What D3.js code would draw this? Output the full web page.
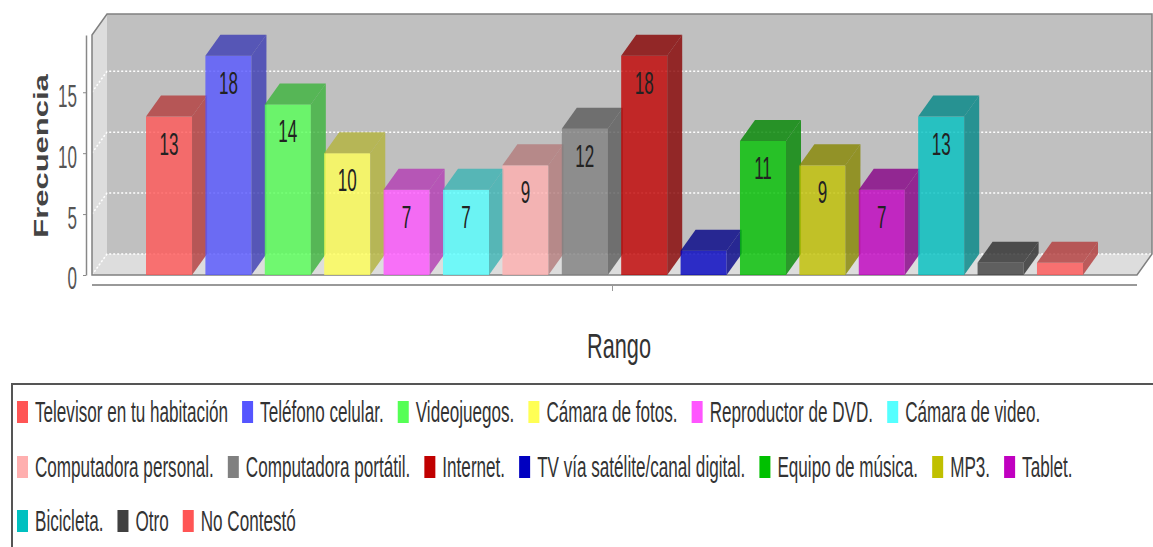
<!DOCTYPE html>
<html><head>
<meta charset="utf-8">
<script src="https://d3js.org/d3.v7.min.js"></script>
<style>
  body { margin: 0; background: #fff; }
  text { font-family: "Liberation Sans", Arial, sans-serif; }
</style>
</head>
<body>
<svg id="chart" width="1153" height="547"></svg>
<script>
// data
const series = ["Televisor en tu habitación", "Teléfono celular.", "Videojuegos.", "Cámara de fotos.",
  "Reproductor de DVD.", "Cámara de video.", "Computadora personal.", "Computadora portátil.",
  "Internet.", "TV vía satélite/canal digital.", "Equipo de música.", "MP3.", "Tablet.",
  "Bicicleta.", "Otro", "No Contestó"];
const values = [13, 18, 14, 10, 7, 7, 9, 12, 18, 2, 11, 9, 7, 13, 1, 1];
const colors = ["#ff5555", "#5555ff", "#55ff55", "#ffff55", "#ff55ff", "#55ffff", "#ffafaf", "#808080",
  "#c00000", "#0000c0", "#00c000", "#c0c000", "#c000c0", "#00c0c0", "#404040", "#ff5555"];
const yTicks = [0, 5, 10, 15];

let svg = d3.select("#chart");
svg.append("rect").attr("width", 1153).attr("height", 547).attr("fill", "#fff");

// plot geometry (front face) and 3d offset
let plot = {left: 92, right: 1137, top: 35, bottom: 275};
let dx = 15, dy = 21;

let x = d3.scaleBand().domain(series).range([146, 1083]).paddingInner(0.225).paddingOuter(0);
let y = d3.scaleLinear().domain([0, 19.7]).range([plot.bottom, plot.top]);
let color = d3.scaleOrdinal().domain(series).range(colors);

// text in the picture is squeezed horizontally
function squeeze(sel, px, py, sx) {
  sel.attr("transform", "translate(" + px + "," + py + ") scale(" + sx + ",1)");
}

// back wall, left wall, floor
let g = svg.append("g");
g.append("rect")
  .attr("x", plot.left + dx).attr("y", plot.top - dy)
  .attr("width", plot.right - plot.left).attr("height", plot.bottom - plot.top)
  .attr("fill", "#c0c0c0");
g.append("polygon")
  .attr("points", [[plot.left, plot.top], [plot.left + dx, plot.top - dy], [plot.left + dx, plot.bottom - dy], [plot.left, plot.bottom]].join(" "))
  .attr("fill", "#dddddd");
g.append("polygon")
  .attr("points", [[plot.left, plot.bottom], [plot.left + dx, plot.bottom - dy], [plot.right + dx, plot.bottom - dy], [plot.right, plot.bottom]].join(" "))
  .attr("fill", "#dddddd");

// gridlines
yTicks.forEach(t => {
  let yy = y(t);
  g.append("polyline")
    .attr("points", [[plot.left, yy], [plot.left + dx, yy - dy], [plot.right + dx, yy - dy]].join(" "))
    .attr("fill", "none")
    .attr("stroke", "#ffffff")
    .attr("stroke-width", 1.5)
    .attr("stroke-dasharray", "2,2");
});

// outline
g.append("polygon")
  .attr("points", [[plot.left, plot.top], [plot.left + dx, plot.top - dy], [plot.right + dx, plot.top - dy],
    [plot.right + dx, plot.bottom - dy], [plot.right, plot.bottom], [plot.left, plot.bottom]].join(" "))
  .attr("fill", "none")
  .attr("stroke", "#808080")
  .attr("stroke-width", 1.5);

// bars
let bars = svg.append("g");
let bw = x.bandwidth();
series.forEach((s, i) => {
  let v = values[i];
  let x0 = x(s), x1 = x0 + bw;
  let yv = y(v), y0 = y(0);
  let c = color(s);
  let dark = d3.color(c).darker(1).formatHex();
  bars.append("rect")
    .attr("x", x0).attr("y", yv).attr("width", bw).attr("height", y0 - yv)
    .attr("fill", c).attr("fill-opacity", 0.8);
  bars.append("polygon")
    .attr("points", [[x1, yv], [x1 + dx, yv - dy], [x1 + dx, y0 - dy], [x1, y0]].join(" "))
    .attr("fill", dark).attr("fill-opacity", 0.8);
  bars.append("polygon")
    .attr("points", [[x0, yv], [x0 + dx, yv - dy], [x1 + dx, yv - dy], [x1, yv]].join(" "))
    .attr("fill", dark).attr("fill-opacity", 0.8);
  if (y0 - yv > 45) {
    bars.append("text")
      .attr("text-anchor", "middle")
      .attr("font-size", 31)
      .attr("fill", "#222")
      .text(v)
      .call(squeeze, x0 + bw / 2, yv + 38, 0.55);
  }
});

// y axis
let yAxis = svg.append("g")
  .attr("transform", "translate(86,0)")
  .call(d3.axisLeft(y).tickValues(yTicks).tickSize(3).tickSizeOuter(0));
yAxis.select(".domain").attr("stroke", "#888").attr("stroke-width", 1.5);
yAxis.selectAll(".tick line").attr("stroke", "#888");
yAxis.selectAll(".tick text")
  .attr("font-size", 31)
  .attr("fill", "#555")
  .attr("x", -9 / 0.55)
  .attr("dy", "0.45em")
  .attr("transform", "scale(0.55,1)");

svg.append("text")
  .attr("text-anchor", "middle")
  .attr("font-size", 31)
  .attr("font-weight", "bold")
  .attr("fill", "#444")
  .text("Frecuencia")
  .attr("transform", "translate(48,156) scale(0.66,1) rotate(-90)");

// category axis
svg.append("line")
  .attr("x1", plot.left).attr("x2", plot.right)
  .attr("y1", 285).attr("y2", 285)
  .attr("stroke", "#999").attr("stroke-width", 2);
svg.append("line")
  .attr("x1", (plot.left + plot.right) / 2 - 2).attr("x2", (plot.left + plot.right) / 2 - 2)
  .attr("y1", 285).attr("y2", 291)
  .attr("stroke", "#999");
svg.append("text")
  .attr("text-anchor", "middle")
  .attr("font-size", 35)
  .attr("fill", "#333")
  .text("Rango")
  .call(squeeze, 619, 358, 0.62);

// legend
let legend = svg.append("g");
legend.append("rect")
  .attr("x", 12).attr("y", 384).attr("width", 1160).attr("height", 200)
  .attr("fill", "#fff").attr("stroke", "#555").attr("stroke-width", 2);

let lsx = 0.59;
let lx = 17, row = 0;
let rowY = [412, 467, 521];
series.forEach((s, i) => {
  let item = legend.append("g");
  let t = item.append("text")
    .attr("font-size", 29)
    .attr("fill", "#333")
    .text(s);
  let tw = t.node().getComputedTextLength() * lsx;
  let w = 11 + 7 + tw;
  if (lx + w > 1150 && lx > 17) { row++; lx = 17; }
  let cy = rowY[row];
  item.append("rect")
    .attr("x", lx).attr("y", cy - 11).attr("width", 11).attr("height", 22)
    .attr("fill", color(s));
  t.call(squeeze, lx + 18, cy + 10, lsx);
  lx += w + 14;
});
</script>
</body>
</html>
